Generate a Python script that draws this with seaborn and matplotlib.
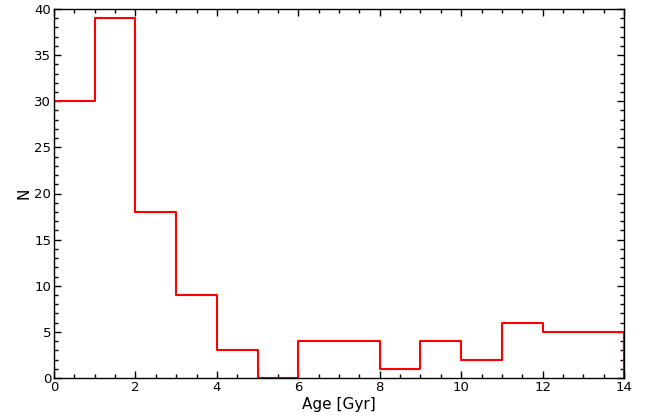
import numpy as np
import pandas as pd
import matplotlib
matplotlib.use("Agg")
import matplotlib.pyplot as plt
import seaborn as sns
from matplotlib.ticker import MultipleLocator

bin_edges = [0, 1, 2, 3, 4, 5, 6, 7, 8, 9, 10, 11, 12, 13, 14]
counts = [30, 39, 18, 9, 3, 0, 4, 4, 1, 4, 2, 6, 5, 5]

centers = [(a + b) / 2 for a, b in zip(bin_edges[:-1], bin_edges[1:])]
df = pd.DataFrame({"age": centers, "n": counts})

sns.set_style("white")
plt.rcParams["font.family"] = ["DejaVu Sans"]
plt.rcParams["text.color"] = "black"
plt.rcParams["axes.labelcolor"] = "black"
plt.rcParams["xtick.color"] = "black"
plt.rcParams["ytick.color"] = "black"

fig = plt.figure(figsize=(6.51, 4.17), dpi=100)
ax = fig.add_axes([54 / 651, 1 - 378 / 417, (624 - 54) / 651, (378 - 9) / 417])

sns.histplot(data=df, x="age", weights="n", bins=bin_edges, element="step",
             fill=False, color="red", linewidth=1.5, ax=ax)
ax.vlines([bin_edges[0], bin_edges[-1]], 0, [counts[0], counts[-1]],
          color="red", linewidth=1.5)

ax.set_xlim(0, 14)
ax.set_ylim(0, 40)
ax.set_xlabel("Age [Gyr]", fontsize=11, labelpad=2)
ax.set_ylabel("N", fontsize=11, labelpad=2)
ax.xaxis.set_major_locator(MultipleLocator(2))
ax.xaxis.set_minor_locator(MultipleLocator(0.5))
ax.yaxis.set_major_locator(MultipleLocator(5))
ax.yaxis.set_minor_locator(MultipleLocator(1))
ax.tick_params(which="both", direction="in", top=True, right=True,
               bottom=True, left=True, labelsize=9.5, pad=2,
               color="black", labelcolor="black")
ax.tick_params(which="major", length=5, width=1)
ax.tick_params(which="minor", length=3, width=1)
for s in ax.spines.values():
    s.set_color("black")
    s.set_linewidth(1)

fig.savefig("out.png", dpi=100)
